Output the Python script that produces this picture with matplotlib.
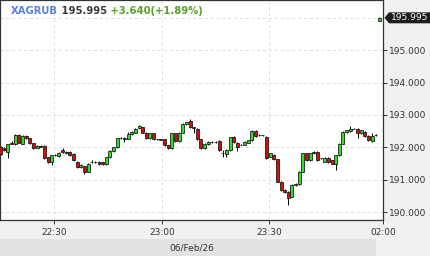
import matplotlib
matplotlib.use("Agg")
import matplotlib.pyplot as plt
from matplotlib.patches import Rectangle, Polygon
from matplotlib.transforms import blended_transform_factory
import numpy as np

symbol = "XAGRUB"
last_price = "195.995"
change_text = "+3.640(+1.89%)"
date_label = "06/Feb/26"

opens = [192.00, 191.98, 191.85, 192.15, 192.10, 192.37, 192.12, 192.35, 192.28, 192.13,
         191.99, 192.05, 192.04, 191.70, 191.55, 191.76, 191.74, 191.92, 191.82, 191.87,
         191.80, 191.56, 191.40, 191.42, 191.25, 191.54, 191.55, 191.56, 191.54, 191.49,
         191.70, 191.88, 192.00, 192.28, 192.30, 192.27, 192.40, 192.45, 192.60, 192.62,
         192.46, 192.28, 192.43, 192.25, 192.25, 192.25, 192.07, 191.98, 192.43, 192.20,
         192.46, 192.72, 192.81, 192.62, 192.58, 192.25, 191.97, 192.10, 192.17, 192.17,
         192.20, 191.82, 191.79, 191.92, 192.33, 192.15, 192.09, 192.09, 192.15, 192.22,
         192.51, 192.38, 192.37, 192.33, 191.71, 191.78, 191.63, 190.94, 190.69, 190.63,
         190.48, 190.84, 190.86, 191.25, 191.82, 191.61, 191.82, 191.86, 191.66, 191.56,
         191.68, 191.60, 191.50, 191.76, 192.12, 192.48, 192.51, 192.58, 192.58, 192.43,
         192.48, 192.35, 192.20, 192.38, 195.91]
highs = [192.03, 192.00, 192.12, 192.20, 192.42, 192.42, 192.38, 192.38, 192.30, 192.15,
         192.08, 192.07, 192.06, 191.72, 191.78, 191.79, 191.85, 191.97, 191.89, 191.89,
         191.82, 191.58, 191.48, 191.44, 191.52, 191.62, 191.57, 191.58, 191.56, 191.72,
         191.92, 192.02, 192.30, 192.32, 192.32, 192.48, 192.50, 192.60, 192.70, 192.64,
         192.48, 192.45, 192.45, 192.27, 192.27, 192.27, 192.09, 192.45, 192.45, 192.48,
         192.74, 192.79, 192.87, 192.64, 192.60, 192.27, 192.14, 192.19, 192.19, 192.19,
         192.22, 191.92, 191.94, 192.33, 192.35, 192.17, 192.11, 192.19, 192.24, 192.53,
         192.53, 192.40, 192.39, 192.36, 191.84, 191.80, 191.65, 190.96, 190.71, 190.65,
         190.86, 190.89, 191.27, 191.84, 191.84, 191.84, 191.88, 191.88, 191.68, 191.70,
         191.70, 191.62, 191.78, 192.14, 192.50, 192.55, 192.65, 192.60, 192.60, 192.55,
         192.50, 192.37, 192.45, 192.40, 196.03]
lows = [191.76, 191.90, 191.68, 192.10, 192.08, 192.13, 192.10, 192.26, 192.11, 191.96,
        191.97, 192.00, 191.65, 191.53, 191.45, 191.74, 191.72, 191.84, 191.80, 191.74,
        191.58, 191.37, 191.38, 191.18, 191.23, 191.52, 191.53, 191.47, 191.47, 191.47,
        191.68, 191.86, 191.98, 192.26, 192.18, 192.25, 192.38, 192.43, 192.58, 192.44,
        192.26, 192.26, 192.23, 192.23, 192.22, 192.05, 191.95, 191.96, 192.18, 192.18,
        192.44, 192.70, 192.60, 192.45, 192.23, 191.95, 191.95, 192.08, 192.15, 192.15,
        191.90, 191.72, 191.70, 191.90, 192.15, 191.90, 192.07, 192.07, 192.13, 192.20,
        192.33, 192.36, 192.35, 191.64, 191.69, 191.61, 190.92, 190.67, 190.61, 190.22,
        190.46, 190.82, 190.84, 191.23, 191.59, 191.59, 191.80, 191.59, 191.64, 191.54,
        191.52, 191.48, 191.30, 191.74, 192.10, 192.46, 192.49, 192.56, 192.29, 192.41,
        192.33, 192.20, 192.18, 192.36, 195.89]
closes = [191.80, 191.92, 192.10, 192.12, 192.37, 192.15, 192.35, 192.28, 192.13, 191.98,
          192.05, 192.02, 191.67, 191.55, 191.76, 191.78, 191.83, 191.86, 191.87, 191.76,
          191.60, 191.39, 191.45, 191.25, 191.50, 191.55, 191.55, 191.49, 191.49, 191.70,
          191.90, 192.00, 192.28, 192.30, 192.25, 192.40, 192.48, 192.58, 192.67, 192.46,
          192.28, 192.43, 192.25, 192.25, 192.24, 192.07, 191.97, 192.43, 192.20, 192.46,
          192.72, 192.77, 192.62, 192.60, 192.25, 191.97, 192.12, 192.17, 192.17, 192.17,
          191.92, 191.82, 191.92, 192.31, 192.17, 192.02, 192.09, 192.17, 192.22, 192.51,
          192.35, 192.38, 192.37, 191.66, 191.82, 191.63, 190.94, 190.69, 190.63, 190.43,
          190.84, 190.87, 191.25, 191.82, 191.61, 191.82, 191.86, 191.61, 191.66, 191.68,
          191.54, 191.50, 191.76, 192.12, 192.48, 192.53, 192.58, 192.58, 192.43, 192.53,
          192.35, 192.22, 192.35, 192.38, 195.995]

time_labels = ["22:30", "23:00", "23:30", "02:00"]
time_label_pos = [14.73, 44.4, 73.8, 105.0]
price_ticks = [190, 191, 192, 193, 194, 195]

W, H = 430, 256
fig = plt.figure(figsize=(W / 100, H / 100), dpi=100, facecolor="#f1f1f1")
ax_left, ax_right, ax_top, ax_bottom = 0, 383, 0.4, 220
ax = fig.add_axes([ax_left / W, 1 - ax_bottom / H, (ax_right - ax_left) / W, (ax_bottom - ax_top) / H])
ax.set_facecolor("white")

o = np.array(opens); h = np.array(highs); l = np.array(lows); c = np.array(closes)
x = np.arange(len(o))
up = c >= o
green = "#2fdc2f"
red = "#cc1111"

ax.vlines(x, l, h, color="black", linewidth=0.7, zorder=3)
bottoms = np.minimum(o, c)
heights = np.abs(c - o)
ax.bar(x, heights, bottom=bottoms, width=0.82,
       color=np.where(up, green, red), edgecolor="#111111", linewidth=0.55, zorder=4)

ax.set_xlim(-0.19, time_label_pos[-1])
ax.set_ylim(189.763, 196.532)

ax.set_xticks(time_label_pos)
ax.set_xticklabels(time_labels)
ax.yaxis.tick_right()
ax.set_yticks(price_ticks)
ax.set_yticklabels([f"{v:.3f}" for v in price_ticks])
ax.tick_params(axis="both", labelsize=6.5, colors="#333333", length=3, width=0.7, direction="out")
ax.tick_params(axis="y", pad=1.5)
ax.tick_params(axis="x", pad=2.5)

grid_kw = dict(color="#dcdcdc", linewidth=0.6, linestyle=(0, (4, 3)), zorder=1)
for v in price_ticks + [196]:
    ax.axhline(v, **grid_kw)
for t in time_label_pos[:-1]:
    ax.axvline(t, **grid_kw)

for s in ax.spines.values():
    s.set_color("#333333")
    s.set_linewidth(0.9)

# header text
t1 = fig.text(11 / W, 1 - 11.5 / H, symbol, color="#5b80d8", fontsize=7.2,
              fontweight="bold", va="center", ha="left")
a2 = ax.annotate(" " + last_price, xy=(1, 0.5), xycoords=t1, va="center", ha="left",
                 color="#3a3a3a", fontsize=7.2, fontweight="bold", annotation_clip=False)
ax.annotate(" " + change_text, xy=(1, 0.5), xycoords=a2, va="center", ha="left",
            color="#5a9e2c", fontsize=7.2, fontweight="bold", annotation_clip=False)

# price tag
tr = blended_transform_factory(fig.transFigure, ax.transData)
pv = closes[-1]
hh = 5.5 / 32.5
tip = 384.5 / W
bx = 389 / W
poly = Polygon([(tip, pv), (bx, pv + hh), (1.0, pv + hh), (1.0, pv - hh), (bx, pv - hh)],
               closed=True, transform=tr, facecolor="#1e1e1e", edgecolor="none",
               clip_on=False, zorder=10)
ax.add_artist(poly)
ax.text(409.5 / W, pv, last_price, transform=tr, color="white", fontsize=6.5,
        ha="center", va="center", clip_on=False, zorder=11)

# bottom date band
fig.patches.append(Rectangle((0, 0), 376 / W, 17 / H, transform=fig.transFigure,
                             facecolor="#e2e2e2", edgecolor="none", zorder=0))
fig.text(191.5 / W, 1 - 248 / H, date_label, fontsize=6.5, color="#333333",
         ha="center", va="center")

fig.savefig("out.png", dpi=100, facecolor=fig.get_facecolor())
